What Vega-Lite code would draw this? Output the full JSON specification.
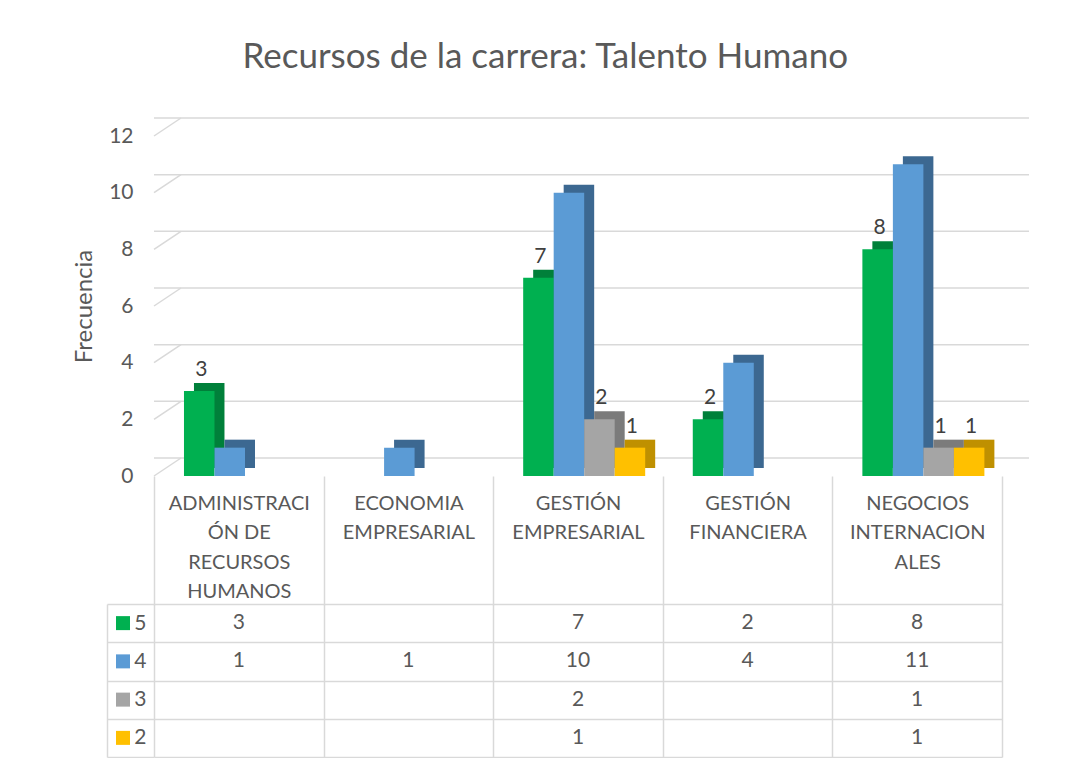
{
  "$schema": "https://vega.github.io/schema/vega-lite/v6.json",
  "padding": {"left": 72, "top": 40, "right": 0, "bottom": 0},
  "background": "white",
  "title": {"text": "Recursos de la carrera: Talento Humano", "fontSize": 35, "font": "Lato", "fontWeight": "normal", "color": "#595959", "anchor": "middle", "offset": 42, "dx": -6},
  "config": {
    "view": {"stroke": null},
    "font": "Lato",
    "axis": {"labelFont": "Lato", "titleFont": "Lato"}
  },
  "data": {"values": [
    {"carrera": "ADMINISTRACIÓN DE RECURSOS HUMANOS", "serie": "5", "valor": 3},
    {"carrera": "ADMINISTRACIÓN DE RECURSOS HUMANOS", "serie": "4", "valor": 1},
    {"carrera": "ECONOMIA EMPRESARIAL", "serie": "4", "valor": 1},
    {"carrera": "GESTIÓN EMPRESARIAL", "serie": "5", "valor": 7},
    {"carrera": "GESTIÓN EMPRESARIAL", "serie": "4", "valor": 10},
    {"carrera": "GESTIÓN EMPRESARIAL", "serie": "3", "valor": 2},
    {"carrera": "GESTIÓN EMPRESARIAL", "serie": "2", "valor": 1},
    {"carrera": "GESTIÓN FINANCIERA", "serie": "5", "valor": 2},
    {"carrera": "GESTIÓN FINANCIERA", "serie": "4", "valor": 4},
    {"carrera": "NEGOCIOS INTERNACIONALES", "serie": "5", "valor": 8},
    {"carrera": "NEGOCIOS INTERNACIONALES", "serie": "4", "valor": 11},
    {"carrera": "NEGOCIOS INTERNACIONALES", "serie": "3", "valor": 1},
    {"carrera": "NEGOCIOS INTERNACIONALES", "serie": "2", "valor": 1}
  ]},
  "bounds": "flush",
  "spacing": 128,
  "vconcat": [
    {
      "width": 848,
      "height": 340,
      "resolve": {"scale": {"xOffset": "independent"}},
      "layer": [
        {
          "data": {"values": [{"v": 0}, {"v": 2}, {"v": 4}, {"v": 6}, {"v": 8}, {"v": 10}, {"v": 12}]},
          "mark": {"type": "rule", "color": "#d9d9d9", "strokeWidth": 1.5, "xOffset": 27, "x2Offset": 27, "yOffset": -18},
          "encoding": {
            "y": {"field": "v", "type": "quantitative",
              "scale": {"domain": [0, 12], "nice": false},
              "axis": {"values": [0, 2, 4, 6, 8, 10, 12], "grid": false, "domain": false, "ticks": false,
                "labelPadding": 21, "labelFontSize": 21, "labelColor": "#595959",
                "title": "Frecuencia", "titleFontSize": 24, "titleFontWeight": "normal", "titleColor": "#595959", "titlePadding": 12}}
          }
        },
        {
          "data": {"values": [{"v": 0}, {"v": 2}, {"v": 4}, {"v": 6}, {"v": 8}, {"v": 10}, {"v": 12}]},
          "mark": {"type": "rule", "color": "#d9d9d9", "strokeWidth": 1.5, "x2Offset": 27, "y2Offset": -18},
          "encoding": {
            "x": {"datum": "ADMINISTRACIÓN DE RECURSOS HUMANOS", "bandPosition": 0},
            "x2": {"datum": "ADMINISTRACIÓN DE RECURSOS HUMANOS", "bandPosition": 0},
            "y": {"field": "v", "type": "quantitative"},
            "y2": {"field": "v"}
          }
        },
        {
          "mark": {"type": "bar", "yOffset": -8, "y2Offset": -8},
          "encoding": {
            "x": {"field": "carrera", "type": "nominal", "sort": null,
              "scale": {"type": "band", "paddingInner": 0, "paddingOuter": 0},
              "axis": {"title": null, "domain": false, "ticks": true, "tickBand": "extent", "tickSize": 129,
                "tickColor": "#d9d9d9", "tickWidth": 1.5, "labelPadding": -112, "labelFontSize": 20,
                "labelColor": "#595959", "labelLineHeight": 29.5, "labelAngle": 0, "labelLimit": 0,
                "labelBaseline": "top", "labelAlign": "center",
                "labelExpr": "!datum.value ? '' : datum.value == 'ADMINISTRACIÓN DE RECURSOS HUMANOS' ? ['ADMINISTRACI','ÓN DE','RECURSOS','HUMANOS'] : datum.value == 'NEGOCIOS INTERNACIONALES' ? ['NEGOCIOS','INTERNACION','ALES'] : split(datum.value, ' ')"}},
            "xOffset": {"field": "serie", "type": "nominal",
              "scale": {"domain": ["5", "4", "3", "2"], "paddingInner": 0, "paddingOuter": 0.78, "align": 0.84}},
            "y": {"field": "valor", "type": "quantitative"},
            "fill": {"field": "serie", "type": "nominal",
              "scale": {"domain": ["5", "4", "3", "2"], "range": ["#00803a", "#3c6891", "#7b7b7b", "#bf9000"]}, "legend": null}
          }
        },
        {
          "mark": {"type": "bar"},
          "encoding": {
            "x": {"field": "carrera", "type": "nominal", "sort": null},
            "xOffset": {"field": "serie", "type": "nominal",
              "scale": {"domain": ["5", "4", "3", "2"], "paddingInner": 0, "paddingOuter": 0.78, "align": 0.63}},
            "y": {"field": "valor", "type": "quantitative"},
            "color": {"field": "serie", "type": "nominal",
              "scale": {"domain": ["5", "4", "3", "2"], "range": ["#00b050", "#5b9bd5", "#a5a5a5", "#ffc000"]}, "legend": null}
          }
        },
        {
          "transform": [{"filter": "datum.serie != '4'"}],
          "mark": {"type": "text", "baseline": "alphabetic", "dy": -15, "dx": 2, "fontSize": 21, "color": "#404040"},
          "encoding": {
            "x": {"field": "carrera", "type": "nominal", "sort": null},
            "xOffset": {"field": "serie", "type": "nominal",
              "scale": {"type": "band", "domain": ["5", "4", "3", "2"], "paddingInner": 0, "paddingOuter": 0.78, "align": 0.63}},
            "y": {"field": "valor", "type": "quantitative"},
            "text": {"field": "valor", "type": "quantitative"}
          }
        }
      ]
    },
    {
      "width": 848,
      "height": 153,
      "layer": [
        {
          "mark": {"type": "text", "fontSize": 21, "color": "#595959"},
          "encoding": {
            "x": {"field": "carrera", "type": "nominal", "sort": null,
              "scale": {"type": "band", "paddingInner": 0, "paddingOuter": 0},
              "axis": {"title": null, "grid": true, "gridColor": "#d9d9d9", "gridWidth": 1.5, "tickBand": "extent",
                "labels": false, "ticks": false, "domain": false}},
            "y": {"field": "serie", "type": "nominal",
              "scale": {"type": "band", "domain": ["5", "4", "3", "2"], "paddingInner": 0, "paddingOuter": 0},
              "axis": {"title": null, "grid": true, "gridColor": "#d9d9d9", "gridWidth": 1.5, "tickBand": "extent",
                "ticks": true, "tickSize": -47, "tickColor": "#d9d9d9", "tickWidth": 1.5, "offset": 47,
                "domain": true, "domainColor": "#d9d9d9", "domainWidth": 1.5,
                "labelPadding": 8, "labelFontSize": 21, "labelColor": "#595959"}},
            "text": {"field": "valor", "type": "quantitative"}
          }
        },
        {
          "transform": [{"aggregate": [{"op": "count", "as": "n"}], "groupby": ["serie"]}],
          "mark": {"type": "point", "shape": "square", "filled": true, "size": 196, "opacity": 1, "xOffset": -31},
          "encoding": {
            "x": {"datum": "ADMINISTRACIÓN DE RECURSOS HUMANOS", "bandPosition": 0},
            "y": {"field": "serie", "type": "nominal"},
            "color": {"field": "serie", "type": "nominal",
              "scale": {"domain": ["5", "4", "3", "2"], "range": ["#00b050", "#5b9bd5", "#a5a5a5", "#ffc000"]}, "legend": null}
          }
        }
      ]
    }
  ]
}
